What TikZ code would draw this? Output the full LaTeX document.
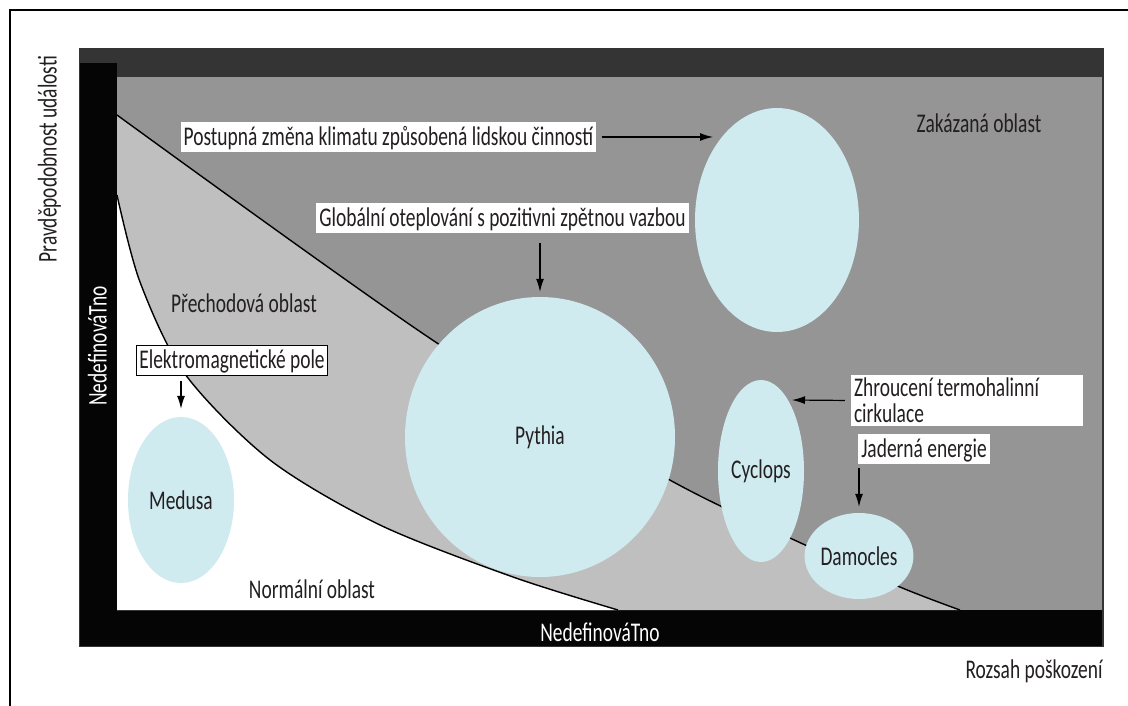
\documentclass[tikz,border=0pt]{standalone}
\usepackage{fontspec}
\setmainfont{Carlito}[FakeStretch=0.72]
\usetikzlibrary{shapes.geometric,arrows.meta}
\definecolor{darkbar}{HTML}{333433}
\definecolor{blackbar}{HTML}{050505}
\definecolor{forbid}{HTML}{959595}
\definecolor{trans}{HTML}{BFBFBF}
\definecolor{blob}{HTML}{CFEBF0}
\definecolor{txt}{HTML}{231F20}
\tikzset{
  tx/.style={text=txt, inner sep=0pt, text height=21pt, text depth=3.6pt},
  wtx/.style={text=white, inner sep=0pt, text height=21pt, text depth=3.6pt},
  labelbox/.style={fill=white, text=txt, inner xsep=3pt, inner ysep=0pt, text height=21pt, text depth=3.6pt, minimum height=30pt},
  blobnode/.style={ellipse, fill=blob, text=txt, inner sep=0pt},
  arr/.style={-{Latex[length=13pt,width=8pt]}, line width=1.2pt, draw=black},
  curve/.style={line width=1.4pt, draw=black}
}
\begin{document}
\begin{tikzpicture}[x=1pt,y=-1pt,font=\fontsize{27}{26}\selectfont]
\useasboundingbox (0,0) rectangle (1128,706);
\fill[white] (0,0) rectangle (1128,706);
% outer frame lines
\draw[line width=2.4pt] (10,706) -- (10,10) -- (1128,10);
% chart frame
\fill[darkbar] (79,48) rectangle (1104,647);
\fill[blackbar] (80,63) rectangle (117,646);
\fill[blackbar] (80,610) rectangle (1102,646);
\fill[forbid] (117,77) rectangle (1102,610);
% transition region
\fill[trans] plot[smooth] coordinates {(117,115) (437,343) (668,479) (790,538) (900,587) (960,610)} -- (117,610) -- cycle;
% normal region
\fill[white] plot[smooth] coordinates {(117,195) (140,282) (185,374) (270,460) (380,525) (513,577) (618,610)} -- (117,610) -- cycle;
\draw[curve] plot[smooth] coordinates {(117,115) (437,343) (668,479) (790,538) (900,587) (960,610)};
\draw[curve] plot[smooth] coordinates {(117,195) (140,282) (185,374) (270,460) (380,525) (513,577) (618,610)};
% blobs
\node[blobnode, minimum width=164pt, minimum height=224pt] (climate) at (777,220) {};
\node[blobnode, minimum width=270pt, minimum height=280pt] (pythia) at (540,437) {Pythia};
\node[blobnode, minimum width=106pt, minimum height=166pt] (medusa) at (181,500) {Medusa};
\node[blobnode, minimum width=86pt, minimum height=182pt] (cyclops) at (761,471) {Cyclops};
\node[blobnode, minimum width=108pt, minimum height=86pt] (damocles) at (859,556) {Damocles};
% region labels
\node[tx] (zak) at (979,124) {Zakázaná oblast};
\node[tx] (prech) at (244,304) {Přechodová oblast};
\node[tx] (norm) at (312,590) {Normální oblast};
\node[tx] (rozsah) at (1034,670) {Rozsah poškození};
\node[tx, rotate=90] (prav) at (48,159) {Pravděpodobnost události};
\node[wtx, rotate=90] (nedefv) at (98,346) {NedefinováTno};
\node[wtx] (nedefh) at (600,633) {NedefinováTno};
% callout boxes
\node[labelbox] (post) at (388.5,137) {Postupná změna klimatu způsobená lidskou činností};
\node[labelbox] (glob) at (502.5,218) {Globální oteplování s pozitivni zpětnou vazbou};
\node[labelbox, draw=black, line width=0.8pt] (elek) at (232,360) {Elektromagnetické pole};
\node[fill=white, text=txt, inner xsep=3pt, inner ysep=2pt, text width=226pt, align=flush left, minimum height=51pt] (zhr) at (967,400.5) {Zhroucení termohalinní\\cirkulace};
\node[labelbox] (jad) at (924,449) {Jaderná energie};
% arrows
\coordinate (climtip) at (713,137);
\coordinate (cyctip) at (792,400);
\draw[arr, shorten <=5pt] (post.east) -- (climtip);
\draw[arr, shorten <=10pt, shorten >=5pt] (pythia.north |- glob.south) -- (pythia.north);
\draw[arr, shorten <=6pt, shorten >=8pt] (medusa.north |- elek.south) -- (medusa.north);
\draw[arr, shorten <=6pt] (zhr.west) -- (cyctip);
\draw[arr, shorten <=4pt, shorten >=6pt] (damocles.north |- jad.south) -- (damocles.north);
\end{tikzpicture}
\end{document}
